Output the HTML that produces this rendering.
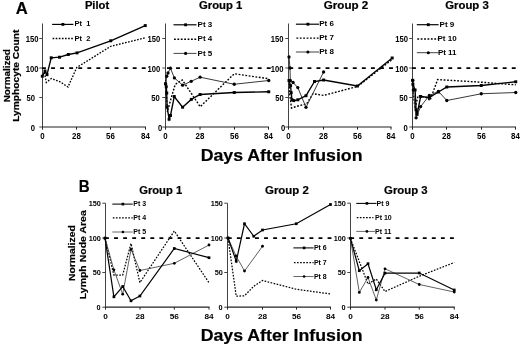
<!DOCTYPE html>
<html><head><meta charset="utf-8"><title>Figure</title>
<style>
html,body{margin:0;padding:0;background:#fff;}
body{width:520px;height:345px;overflow:hidden;font-family:"Liberation Sans",sans-serif;}
svg{display:block;filter:grayscale(1);}
</style></head><body>
<svg width="520" height="345" viewBox="0 0 520 345">
<rect width="520" height="345" fill="#fff"/>
<line x1="42.5" y1="23.5" x2="42.5" y2="127.5" stroke="#444" stroke-width="1"/>
<line x1="42.0" y1="127" x2="146.0" y2="127" stroke="#222" stroke-width="1.2"/>
<line x1="39.3" y1="127" x2="42.5" y2="127" stroke="#444" stroke-width="1"/>
<text x="30.74" y="130.6" font-size="8.8" textLength="4.26" lengthAdjust="spacingAndGlyphs" font-family="Liberation Sans, sans-serif" font-weight="bold">0</text>
<line x1="39.3" y1="97.5" x2="42.5" y2="97.5" stroke="#444" stroke-width="1"/>
<text x="26.49" y="101.1" font-size="8.8" textLength="8.52" lengthAdjust="spacingAndGlyphs" font-family="Liberation Sans, sans-serif" font-weight="bold">50</text>
<line x1="39.3" y1="68" x2="42.5" y2="68" stroke="#444" stroke-width="1"/>
<text x="25.63" y="71.6" font-size="8.8" textLength="12.77" lengthAdjust="spacingAndGlyphs" font-family="Liberation Sans, sans-serif" font-weight="bold">100</text>
<line x1="39.3" y1="38.5" x2="42.5" y2="38.5" stroke="#444" stroke-width="1"/>
<text x="25.63" y="42.1" font-size="8.8" textLength="12.77" lengthAdjust="spacingAndGlyphs" font-family="Liberation Sans, sans-serif" font-weight="bold">150</text>
<line x1="42.5" y1="127" x2="42.5" y2="129.6" stroke="#222" stroke-width="1"/>
<text x="40.30" y="139.0" font-size="8.8" textLength="4.40" lengthAdjust="spacingAndGlyphs" font-family="Liberation Sans, sans-serif" font-weight="bold">0</text>
<line x1="76.5" y1="127" x2="76.5" y2="129.6" stroke="#222" stroke-width="1"/>
<text x="72.10" y="139.0" font-size="8.8" textLength="8.81" lengthAdjust="spacingAndGlyphs" font-family="Liberation Sans, sans-serif" font-weight="bold">28</text>
<line x1="110.5" y1="127" x2="110.5" y2="129.6" stroke="#222" stroke-width="1"/>
<text x="106.10" y="139.0" font-size="8.8" textLength="8.81" lengthAdjust="spacingAndGlyphs" font-family="Liberation Sans, sans-serif" font-weight="bold">56</text>
<line x1="145.5" y1="127" x2="145.5" y2="129.6" stroke="#222" stroke-width="1"/>
<text x="141.10" y="139.0" font-size="8.8" textLength="8.81" lengthAdjust="spacingAndGlyphs" font-family="Liberation Sans, sans-serif" font-weight="bold">84</text>
<line x1="42" y1="68.2" x2="145.67" y2="68.2" stroke="#000" stroke-width="1.8" stroke-dasharray="3.9,5.17"/>
<polyline points="42.5,76 44.5,73 46.3,82.5 51.25,78.5 59.5,81.5 68,87 76.75,67.5 110.75,46.3 145.25,37.8" fill="none" stroke="#000" stroke-width="1.35" stroke-dasharray="1.65,1.45"/>
<polyline points="42.3,76.2 45,71 47,74.6 51.2,57.8 59.5,57.2 68.3,54.5 77,52.9 110.75,40.8 145.25,25.6" fill="none" stroke="#000" stroke-width="1.35" stroke-linejoin="miter"/>
<rect x="40.82" y="74.73" width="2.95" height="2.95" fill="#000"/>
<rect x="43.52" y="69.53" width="2.95" height="2.95" fill="#000"/>
<rect x="45.52" y="73.12" width="2.95" height="2.95" fill="#000"/>
<rect x="49.73" y="56.32" width="2.95" height="2.95" fill="#000"/>
<rect x="58.02" y="55.73" width="2.95" height="2.95" fill="#000"/>
<rect x="66.83" y="53.02" width="2.95" height="2.95" fill="#000"/>
<rect x="75.53" y="51.42" width="2.95" height="2.95" fill="#000"/>
<rect x="109.28" y="39.32" width="2.95" height="2.95" fill="#000"/>
<rect x="143.78" y="24.12" width="2.95" height="2.95" fill="#000"/>
<polyline points="52.1,24.4 73.4,24.4" fill="none" stroke="#000" stroke-width="1.1745" stroke-linejoin="miter"/>
<rect x="61.47" y="22.97" width="2.8615" height="2.8615" fill="#000"/>
<text x="74.6" y="26.4" font-size="7.5" text-anchor="start" font-family="Liberation Sans, sans-serif" font-weight="bold" >Pt&#160;&#160;1</text>
<polyline points="52.6,38.5 73.4,38.5" fill="none" stroke="#000" stroke-width="1.35" stroke-dasharray="1.65,1.45"/>
<text x="74.6" y="40.5" font-size="7.5" text-anchor="start" font-family="Liberation Sans, sans-serif" font-weight="bold" >Pt&#160;&#160;2</text>
<line x1="165.5" y1="23.5" x2="165.5" y2="127.5" stroke="#444" stroke-width="1"/>
<line x1="165.0" y1="127" x2="269.0" y2="127" stroke="#222" stroke-width="1.2"/>
<line x1="162.3" y1="127" x2="165.5" y2="127" stroke="#444" stroke-width="1"/>
<text x="158.04" y="130.6" font-size="8.8" textLength="4.26" lengthAdjust="spacingAndGlyphs" font-family="Liberation Sans, sans-serif" font-weight="bold">0</text>
<line x1="162.3" y1="97.5" x2="165.5" y2="97.5" stroke="#444" stroke-width="1"/>
<text x="151.19" y="101.1" font-size="8.8" textLength="8.52" lengthAdjust="spacingAndGlyphs" font-family="Liberation Sans, sans-serif" font-weight="bold">50</text>
<line x1="162.3" y1="68" x2="165.5" y2="68" stroke="#444" stroke-width="1"/>
<text x="147.53" y="71.6" font-size="8.8" textLength="12.77" lengthAdjust="spacingAndGlyphs" font-family="Liberation Sans, sans-serif" font-weight="bold">100</text>
<line x1="162.3" y1="38.5" x2="165.5" y2="38.5" stroke="#444" stroke-width="1"/>
<text x="147.53" y="42.1" font-size="8.8" textLength="12.77" lengthAdjust="spacingAndGlyphs" font-family="Liberation Sans, sans-serif" font-weight="bold">150</text>
<line x1="165.5" y1="127" x2="165.5" y2="129.6" stroke="#222" stroke-width="1"/>
<text x="163.30" y="139.0" font-size="8.8" textLength="4.40" lengthAdjust="spacingAndGlyphs" font-family="Liberation Sans, sans-serif" font-weight="bold">0</text>
<line x1="200" y1="127" x2="200" y2="129.6" stroke="#222" stroke-width="1"/>
<text x="195.60" y="139.0" font-size="8.8" textLength="8.81" lengthAdjust="spacingAndGlyphs" font-family="Liberation Sans, sans-serif" font-weight="bold">28</text>
<line x1="234.5" y1="127" x2="234.5" y2="129.6" stroke="#222" stroke-width="1"/>
<text x="230.10" y="139.0" font-size="8.8" textLength="8.81" lengthAdjust="spacingAndGlyphs" font-family="Liberation Sans, sans-serif" font-weight="bold">56</text>
<line x1="268.5" y1="127" x2="268.5" y2="129.6" stroke="#222" stroke-width="1"/>
<text x="264.10" y="139.0" font-size="8.8" textLength="8.81" lengthAdjust="spacingAndGlyphs" font-family="Liberation Sans, sans-serif" font-weight="bold">84</text>
<line x1="167" y1="68.2" x2="270.67" y2="68.2" stroke="#000" stroke-width="1.8" stroke-dasharray="3.9,5.17"/>
<polyline points="165.7,80 166.3,95 167.5,112 169.5,104 172.2,94.5 175.2,84.4 182.3,80 191.4,93.5 200.2,106.7 234.25,73.75 268.75,78.75" fill="none" stroke="#000" stroke-width="1.4" stroke-dasharray="1.8,1.6"/>
<polyline points="165.7,84 166.75,76.25 168,73 170.4,68.2 174.4,77.9 182.6,85.2 191.2,81.3 200.1,77.2 234.25,84.25 268.75,80.5" fill="none" stroke="#3a3a3a" stroke-width="1.0"/>
<circle cx="165.7" cy="84" r="1.65" fill="#000"/>
<circle cx="166.75" cy="76.25" r="1.65" fill="#000"/>
<circle cx="168" cy="73" r="1.65" fill="#000"/>
<circle cx="170.4" cy="68.2" r="1.65" fill="#000"/>
<circle cx="174.4" cy="77.9" r="1.65" fill="#000"/>
<circle cx="182.6" cy="85.2" r="1.65" fill="#000"/>
<circle cx="191.2" cy="81.3" r="1.65" fill="#000"/>
<circle cx="200.1" cy="77.2" r="1.65" fill="#000"/>
<circle cx="234.25" cy="84.25" r="1.65" fill="#000"/>
<circle cx="268.75" cy="80.5" r="1.65" fill="#000"/>
<polyline points="165.5,83.75 166.25,86.75 166.75,93 167.1,107 169.1,119.2 170.5,115.5 174.25,96.5 182.6,107.2 191.3,99.4 200.1,94.5 234.25,92.5 268.75,91.75" fill="none" stroke="#000" stroke-width="1.35" stroke-linejoin="miter"/>
<rect x="164.03" y="82.28" width="2.95" height="2.95" fill="#000"/>
<rect x="164.78" y="85.28" width="2.95" height="2.95" fill="#000"/>
<rect x="165.28" y="91.53" width="2.95" height="2.95" fill="#000"/>
<rect x="165.62" y="105.53" width="2.95" height="2.95" fill="#000"/>
<rect x="167.62" y="117.73" width="2.95" height="2.95" fill="#000"/>
<rect x="169.03" y="114.03" width="2.95" height="2.95" fill="#000"/>
<rect x="172.78" y="95.03" width="2.95" height="2.95" fill="#000"/>
<rect x="181.12" y="105.73" width="2.95" height="2.95" fill="#000"/>
<rect x="189.83" y="97.93" width="2.95" height="2.95" fill="#000"/>
<rect x="198.62" y="93.03" width="2.95" height="2.95" fill="#000"/>
<rect x="232.78" y="91.03" width="2.95" height="2.95" fill="#000"/>
<rect x="267.27" y="90.28" width="2.95" height="2.95" fill="#000"/>
<polyline points="173.5,24.8 196.5,24.8" fill="none" stroke="#000" stroke-width="1.1745" stroke-linejoin="miter"/>
<rect x="184.17" y="23.37" width="2.8615" height="2.8615" fill="#000"/>
<text x="197.6" y="26.900000000000002" font-size="8" text-anchor="start" font-family="Liberation Sans, sans-serif" font-weight="bold" >Pt 3</text>
<polyline points="174.0,39.2 196.5,39.2" fill="none" stroke="#000" stroke-width="1.4" stroke-dasharray="1.8,1.6"/>
<text x="197.6" y="41.300000000000004" font-size="8" text-anchor="start" font-family="Liberation Sans, sans-serif" font-weight="bold" >Pt 4</text>
<polyline points="173.5,53.4 196.5,53.4" fill="none" stroke="#3a3a3a" stroke-width="0.95"/>
<circle cx="185.6" cy="53.4" r="1.5675" fill="#000"/>
<text x="197.6" y="55.5" font-size="8" text-anchor="start" font-family="Liberation Sans, sans-serif" font-weight="bold" >Pt 5</text>
<line x1="288.5" y1="23.5" x2="288.5" y2="127.5" stroke="#444" stroke-width="1"/>
<line x1="288.0" y1="127" x2="391.5" y2="127" stroke="#222" stroke-width="1.2"/>
<line x1="285.3" y1="127" x2="288.5" y2="127" stroke="#444" stroke-width="1"/>
<text x="281.04" y="130.6" font-size="8.8" textLength="4.26" lengthAdjust="spacingAndGlyphs" font-family="Liberation Sans, sans-serif" font-weight="bold">0</text>
<line x1="285.3" y1="97.5" x2="288.5" y2="97.5" stroke="#444" stroke-width="1"/>
<text x="275.19" y="101.1" font-size="8.8" textLength="8.52" lengthAdjust="spacingAndGlyphs" font-family="Liberation Sans, sans-serif" font-weight="bold">50</text>
<line x1="285.3" y1="68" x2="288.5" y2="68" stroke="#444" stroke-width="1"/>
<text x="270.83" y="71.6" font-size="8.8" textLength="12.77" lengthAdjust="spacingAndGlyphs" font-family="Liberation Sans, sans-serif" font-weight="bold">100</text>
<line x1="285.3" y1="38.5" x2="288.5" y2="38.5" stroke="#444" stroke-width="1"/>
<text x="270.63" y="42.1" font-size="8.8" textLength="12.77" lengthAdjust="spacingAndGlyphs" font-family="Liberation Sans, sans-serif" font-weight="bold">150</text>
<line x1="288.5" y1="127" x2="288.5" y2="129.6" stroke="#222" stroke-width="1"/>
<text x="286.30" y="139.0" font-size="8.8" textLength="4.40" lengthAdjust="spacingAndGlyphs" font-family="Liberation Sans, sans-serif" font-weight="bold">0</text>
<line x1="323.5" y1="127" x2="323.5" y2="129.6" stroke="#222" stroke-width="1"/>
<text x="319.10" y="139.0" font-size="8.8" textLength="8.81" lengthAdjust="spacingAndGlyphs" font-family="Liberation Sans, sans-serif" font-weight="bold">28</text>
<line x1="357.5" y1="127" x2="357.5" y2="129.6" stroke="#222" stroke-width="1"/>
<text x="353.10" y="139.0" font-size="8.8" textLength="8.81" lengthAdjust="spacingAndGlyphs" font-family="Liberation Sans, sans-serif" font-weight="bold">56</text>
<line x1="391" y1="127" x2="391" y2="129.6" stroke="#222" stroke-width="1"/>
<text x="386.60" y="139.0" font-size="8.8" textLength="8.81" lengthAdjust="spacingAndGlyphs" font-family="Liberation Sans, sans-serif" font-weight="bold">84</text>
<line x1="289.3" y1="68.2" x2="392.97" y2="68.2" stroke="#000" stroke-width="1.8" stroke-dasharray="3.9,5.17"/>
<polyline points="289,80 289.8,95 291.5,108 298,106 306.5,104 313,93.7 323.6,95.4 357.5,86.5 391.5,60" fill="none" stroke="#000" stroke-width="1.4" stroke-dasharray="1.8,1.6"/>
<polyline points="289,57 290,68 290.3,80.5 293.1,82.5 297.8,87.6 306,107.3 323.6,72" fill="none" stroke="#3a3a3a" stroke-width="1.0"/>
<circle cx="289" cy="57" r="1.65" fill="#000"/>
<circle cx="290" cy="68" r="1.65" fill="#000"/>
<circle cx="290.3" cy="80.5" r="1.65" fill="#000"/>
<circle cx="293.1" cy="82.5" r="1.65" fill="#000"/>
<circle cx="297.8" cy="87.6" r="1.65" fill="#000"/>
<circle cx="306" cy="107.3" r="1.65" fill="#000"/>
<circle cx="323.6" cy="72" r="1.65" fill="#000"/>
<polyline points="289,80.5 290.6,85.6 291.2,92.7 292,99.8 293.8,100.6 297.8,99.8 306,95.7 314.5,81.5 323.6,80 357.4,86 392.2,58" fill="none" stroke="#000" stroke-width="1.35" stroke-linejoin="miter"/>
<rect x="287.52" y="79.03" width="2.95" height="2.95" fill="#000"/>
<rect x="289.12" y="84.12" width="2.95" height="2.95" fill="#000"/>
<rect x="289.72" y="91.23" width="2.95" height="2.95" fill="#000"/>
<rect x="290.52" y="98.33" width="2.95" height="2.95" fill="#000"/>
<rect x="292.32" y="99.12" width="2.95" height="2.95" fill="#000"/>
<rect x="296.32" y="98.33" width="2.95" height="2.95" fill="#000"/>
<rect x="304.52" y="94.23" width="2.95" height="2.95" fill="#000"/>
<rect x="313.02" y="80.03" width="2.95" height="2.95" fill="#000"/>
<rect x="322.12" y="78.53" width="2.95" height="2.95" fill="#000"/>
<rect x="355.92" y="84.53" width="2.95" height="2.95" fill="#000"/>
<rect x="390.72" y="56.52" width="2.95" height="2.95" fill="#000"/>
<polyline points="295.9,24.2 319,24.2" fill="none" stroke="#000" stroke-width="1.1745" stroke-linejoin="miter"/>
<rect x="306.47" y="22.77" width="2.8615" height="2.8615" fill="#000"/>
<text x="319.2" y="26.099999999999998" font-size="8" text-anchor="start" font-family="Liberation Sans, sans-serif" font-weight="bold" >Pt 6</text>
<polyline points="296.4,38.1 319,38.1" fill="none" stroke="#000" stroke-width="1.4" stroke-dasharray="1.8,1.6"/>
<text x="319.2" y="40.0" font-size="8" text-anchor="start" font-family="Liberation Sans, sans-serif" font-weight="bold" >Pt 7</text>
<polyline points="295.9,52.0 319,52.0" fill="none" stroke="#3a3a3a" stroke-width="0.95"/>
<circle cx="307.9" cy="52.0" r="1.5675" fill="#000"/>
<text x="319.2" y="53.9" font-size="8" text-anchor="start" font-family="Liberation Sans, sans-serif" font-weight="bold" >Pt 8</text>
<line x1="412.5" y1="23.5" x2="412.5" y2="127.5" stroke="#444" stroke-width="1"/>
<line x1="412.0" y1="127" x2="516.0" y2="127" stroke="#222" stroke-width="1.2"/>
<line x1="409.3" y1="127" x2="412.5" y2="127" stroke="#444" stroke-width="1"/>
<text x="403.44" y="130.6" font-size="8.8" textLength="4.26" lengthAdjust="spacingAndGlyphs" font-family="Liberation Sans, sans-serif" font-weight="bold">0</text>
<line x1="409.3" y1="97.5" x2="412.5" y2="97.5" stroke="#444" stroke-width="1"/>
<text x="399.19" y="101.1" font-size="8.8" textLength="8.52" lengthAdjust="spacingAndGlyphs" font-family="Liberation Sans, sans-serif" font-weight="bold">50</text>
<line x1="409.3" y1="68" x2="412.5" y2="68" stroke="#444" stroke-width="1"/>
<text x="395.33" y="71.6" font-size="8.8" textLength="12.77" lengthAdjust="spacingAndGlyphs" font-family="Liberation Sans, sans-serif" font-weight="bold">100</text>
<line x1="409.3" y1="38.5" x2="412.5" y2="38.5" stroke="#444" stroke-width="1"/>
<text x="395.33" y="42.1" font-size="8.8" textLength="12.77" lengthAdjust="spacingAndGlyphs" font-family="Liberation Sans, sans-serif" font-weight="bold">150</text>
<line x1="412.5" y1="127" x2="412.5" y2="129.6" stroke="#222" stroke-width="1"/>
<text x="410.30" y="139.0" font-size="8.8" textLength="4.40" lengthAdjust="spacingAndGlyphs" font-family="Liberation Sans, sans-serif" font-weight="bold">0</text>
<line x1="446.5" y1="127" x2="446.5" y2="129.6" stroke="#222" stroke-width="1"/>
<text x="442.10" y="139.0" font-size="8.8" textLength="8.81" lengthAdjust="spacingAndGlyphs" font-family="Liberation Sans, sans-serif" font-weight="bold">28</text>
<line x1="481.5" y1="127" x2="481.5" y2="129.6" stroke="#222" stroke-width="1"/>
<text x="477.10" y="139.0" font-size="8.8" textLength="8.81" lengthAdjust="spacingAndGlyphs" font-family="Liberation Sans, sans-serif" font-weight="bold">56</text>
<line x1="515.5" y1="127" x2="515.5" y2="129.6" stroke="#222" stroke-width="1"/>
<text x="511.10" y="139.0" font-size="8.8" textLength="8.81" lengthAdjust="spacingAndGlyphs" font-family="Liberation Sans, sans-serif" font-weight="bold">84</text>
<line x1="412" y1="68.2" x2="515.67" y2="68.2" stroke="#000" stroke-width="1.8" stroke-dasharray="3.9,5.17"/>
<polyline points="412.7,82 413.5,95 415,108.6 418.2,95.5 426.3,97.5 430,100.5 437.6,79.6 481.25,82.2 515.75,84.8" fill="none" stroke="#000" stroke-width="1.4" stroke-dasharray="1.8,1.6"/>
<polyline points="412.7,80.3 413.3,90 416.1,117.8 420.6,106.6 429.3,95.5 438.4,91.4 446.8,100.5 481.25,93.75 515.75,92.5" fill="none" stroke="#3a3a3a" stroke-width="1.0"/>
<circle cx="412.7" cy="80.3" r="1.65" fill="#000"/>
<circle cx="413.3" cy="90" r="1.65" fill="#000"/>
<circle cx="416.1" cy="117.8" r="1.65" fill="#000"/>
<circle cx="420.6" cy="106.6" r="1.65" fill="#000"/>
<circle cx="429.3" cy="95.5" r="1.65" fill="#000"/>
<circle cx="438.4" cy="91.4" r="1.65" fill="#000"/>
<circle cx="446.8" cy="100.5" r="1.65" fill="#000"/>
<circle cx="481.25" cy="93.75" r="1.65" fill="#000"/>
<circle cx="515.75" cy="92.5" r="1.65" fill="#000"/>
<polyline points="412.7,80.3 412.9,84.3 415.1,90 416.1,109.7 417.1,114.3 420.6,96.5 429.3,97.5 438.4,92 446.8,87 481.25,85.5 515.75,81.75" fill="none" stroke="#000" stroke-width="1.35" stroke-linejoin="miter"/>
<rect x="411.22" y="78.83" width="2.95" height="2.95" fill="#000"/>
<rect x="411.42" y="82.83" width="2.95" height="2.95" fill="#000"/>
<rect x="413.62" y="88.53" width="2.95" height="2.95" fill="#000"/>
<rect x="414.62" y="108.23" width="2.95" height="2.95" fill="#000"/>
<rect x="415.62" y="112.83" width="2.95" height="2.95" fill="#000"/>
<rect x="419.12" y="95.03" width="2.95" height="2.95" fill="#000"/>
<rect x="427.82" y="96.03" width="2.95" height="2.95" fill="#000"/>
<rect x="436.92" y="90.53" width="2.95" height="2.95" fill="#000"/>
<rect x="445.32" y="85.53" width="2.95" height="2.95" fill="#000"/>
<rect x="479.77" y="84.03" width="2.95" height="2.95" fill="#000"/>
<rect x="514.27" y="80.28" width="2.95" height="2.95" fill="#000"/>
<polyline points="416.8,24.7 438.6,24.7" fill="none" stroke="#000" stroke-width="1.1745" stroke-linejoin="miter"/>
<rect x="426.87" y="23.27" width="2.8615" height="2.8615" fill="#000"/>
<text x="439.6" y="26.599999999999998" font-size="8" text-anchor="start" font-family="Liberation Sans, sans-serif" font-weight="bold" >Pt 9</text>
<polyline points="417.3,39 438.6,39" fill="none" stroke="#000" stroke-width="1.4" stroke-dasharray="1.8,1.6"/>
<text x="437.5" y="40.9" font-size="8" text-anchor="start" font-family="Liberation Sans, sans-serif" font-weight="bold" >Pt 10</text>
<polyline points="416.8,52.7 438.6,52.7" fill="none" stroke="#3a3a3a" stroke-width="0.95"/>
<circle cx="428.3" cy="52.7" r="1.5675" fill="#000"/>
<text x="437.9" y="54.6" font-size="8" text-anchor="start" font-family="Liberation Sans, sans-serif" font-weight="bold" >Pt 11</text>
<text x="15.70" y="13.8" font-size="16" textLength="12.00" lengthAdjust="spacingAndGlyphs" font-family="Liberation Sans, sans-serif" font-weight="bold" stroke="#000" stroke-width="0.2">A</text>
<text x="84.90" y="9.0" font-size="10.3" textLength="24.29" lengthAdjust="spacingAndGlyphs" font-family="Liberation Sans, sans-serif" font-weight="bold" stroke="#000" stroke-width="0.2">Pilot</text>
<text x="199.00" y="9.0" font-size="10.3" textLength="43.19" lengthAdjust="spacingAndGlyphs" font-family="Liberation Sans, sans-serif" font-weight="bold" stroke="#000" stroke-width="0.2">Group 1</text>
<text x="323.85" y="9.0" font-size="10.3" textLength="44.44" lengthAdjust="spacingAndGlyphs" font-family="Liberation Sans, sans-serif" font-weight="bold" stroke="#000" stroke-width="0.2">Group 2</text>
<text x="445.20" y="9.0" font-size="10.3" textLength="43.59" lengthAdjust="spacingAndGlyphs" font-family="Liberation Sans, sans-serif" font-weight="bold" stroke="#000" stroke-width="0.2">Group 3</text>
<text x="200.70" y="161.2" font-size="17" textLength="161.80" lengthAdjust="spacingAndGlyphs" font-family="Liberation Sans, sans-serif" font-weight="bold" stroke="#000" stroke-width="0.2">Days After Infusion</text>
<text transform="translate(9.6,102.30) rotate(-90)" font-size="9.4" textLength="53.20" lengthAdjust="spacingAndGlyphs" font-family="Liberation Sans, sans-serif" font-weight="bold" stroke="#000" stroke-width="0.2">Normalized</text>
<text transform="translate(19.1,121.80) rotate(-90)" font-size="9.4" textLength="92.10" lengthAdjust="spacingAndGlyphs" font-family="Liberation Sans, sans-serif" font-weight="bold" stroke="#000" stroke-width="0.2">Lymphocyte Count</text>
<line x1="105.5" y1="203.2" x2="105.5" y2="307.7" stroke="#444" stroke-width="1"/>
<line x1="105.0" y1="307.2" x2="209.5" y2="307.2" stroke="#222" stroke-width="1.2"/>
<line x1="102.3" y1="307.2" x2="105.5" y2="307.2" stroke="#444" stroke-width="1"/>
<text x="96.54" y="309.95" font-size="7.3" textLength="4.06" lengthAdjust="spacingAndGlyphs" font-family="Liberation Sans, sans-serif" font-weight="bold">0</text>
<line x1="102.3" y1="272.5" x2="105.5" y2="272.5" stroke="#444" stroke-width="1"/>
<text x="92.78" y="275.25" font-size="7.3" textLength="8.12" lengthAdjust="spacingAndGlyphs" font-family="Liberation Sans, sans-serif" font-weight="bold">50</text>
<line x1="102.3" y1="238" x2="105.5" y2="238" stroke="#444" stroke-width="1"/>
<text x="88.72" y="240.75" font-size="7.3" textLength="12.18" lengthAdjust="spacingAndGlyphs" font-family="Liberation Sans, sans-serif" font-weight="bold">100</text>
<line x1="102.3" y1="203.2" x2="105.5" y2="203.2" stroke="#444" stroke-width="1"/>
<text x="88.72" y="205.95" font-size="7.3" textLength="12.18" lengthAdjust="spacingAndGlyphs" font-family="Liberation Sans, sans-serif" font-weight="bold">150</text>
<line x1="105.5" y1="307.2" x2="105.5" y2="309.59999999999997" stroke="#222" stroke-width="1"/>
<text x="103.21" y="319.2" font-size="8.0" textLength="4.58" lengthAdjust="spacingAndGlyphs" font-family="Liberation Sans, sans-serif" font-weight="bold">0</text>
<line x1="140" y1="307.2" x2="140" y2="309.59999999999997" stroke="#222" stroke-width="1"/>
<text x="135.42" y="319.2" font-size="8.0" textLength="9.17" lengthAdjust="spacingAndGlyphs" font-family="Liberation Sans, sans-serif" font-weight="bold">28</text>
<line x1="174.3" y1="307.2" x2="174.3" y2="309.59999999999997" stroke="#222" stroke-width="1"/>
<text x="169.72" y="319.2" font-size="8.0" textLength="9.17" lengthAdjust="spacingAndGlyphs" font-family="Liberation Sans, sans-serif" font-weight="bold">56</text>
<line x1="209" y1="307.2" x2="209" y2="309.59999999999997" stroke="#222" stroke-width="1"/>
<text x="204.42" y="319.2" font-size="8.0" textLength="9.17" lengthAdjust="spacingAndGlyphs" font-family="Liberation Sans, sans-serif" font-weight="bold">84</text>
<line x1="105" y1="238.2" x2="208.67" y2="238.2" stroke="#000" stroke-width="1.8" stroke-dasharray="3.9,5.17"/>
<polyline points="105,238 113.9,275 122.7,275 131,243.5 139.9,282.6 174.3,231 209,282.7" fill="none" stroke="#000" stroke-width="1.25" stroke-dasharray="1.65,1.45"/>
<polyline points="105,238.2 113.9,269.8 122.7,294.2 131,249.4 139.9,270.5 174.3,263.3 209,245" fill="none" stroke="#3a3a3a" stroke-width="0.8"/>
<circle cx="105" cy="238.2" r="1.4" fill="#000"/>
<circle cx="113.9" cy="269.8" r="1.4" fill="#000"/>
<circle cx="122.7" cy="294.2" r="1.4" fill="#000"/>
<circle cx="131" cy="249.4" r="1.4" fill="#000"/>
<circle cx="139.9" cy="270.5" r="1.4" fill="#000"/>
<circle cx="174.3" cy="263.3" r="1.4" fill="#000"/>
<circle cx="209" cy="245" r="1.4" fill="#000"/>
<polyline points="105,238.1 113.9,296.8 122.7,286.5 131,300.8 139.9,296 174.3,248.5 209,257.7" fill="none" stroke="#000" stroke-width="1.2" stroke-linejoin="miter"/>
<rect x="103.65" y="236.75" width="2.7" height="2.7" fill="#000"/>
<rect x="112.55" y="295.45" width="2.7" height="2.7" fill="#000"/>
<rect x="121.35" y="285.15" width="2.7" height="2.7" fill="#000"/>
<rect x="129.65" y="299.45" width="2.7" height="2.7" fill="#000"/>
<rect x="138.55" y="294.65" width="2.7" height="2.7" fill="#000"/>
<rect x="172.95" y="247.15" width="2.7" height="2.7" fill="#000"/>
<rect x="207.65" y="256.35" width="2.7" height="2.7" fill="#000"/>
<polyline points="112.3,204.1 132.7,204.1" fill="none" stroke="#000" stroke-width="1.044" stroke-linejoin="miter"/>
<rect x="121.59" y="202.79" width="2.619" height="2.619" fill="#000"/>
<text x="133.3" y="206.4" font-size="7" text-anchor="start" font-family="Liberation Sans, sans-serif" font-weight="bold" >Pt 3</text>
<polyline points="112.8,217.9 132.7,217.9" fill="none" stroke="#000" stroke-width="1.25" stroke-dasharray="1.65,1.45"/>
<text x="133.3" y="220.20000000000002" font-size="7" text-anchor="start" font-family="Liberation Sans, sans-serif" font-weight="bold" >Pt 4</text>
<polyline points="112.3,232.0 132.7,232.0" fill="none" stroke="#3a3a3a" stroke-width="0.76"/>
<circle cx="122.9" cy="232.0" r="1.3299999999999998" fill="#000"/>
<text x="133.3" y="234.3" font-size="7" text-anchor="start" font-family="Liberation Sans, sans-serif" font-weight="bold" >Pt 5</text>
<line x1="227.5" y1="203.2" x2="227.5" y2="307.7" stroke="#444" stroke-width="1"/>
<line x1="227.0" y1="307.2" x2="331.0" y2="307.2" stroke="#222" stroke-width="1.2"/>
<line x1="224.3" y1="307.2" x2="227.5" y2="307.2" stroke="#444" stroke-width="1"/>
<text x="218.54" y="309.95" font-size="7.3" textLength="4.06" lengthAdjust="spacingAndGlyphs" font-family="Liberation Sans, sans-serif" font-weight="bold">0</text>
<line x1="224.3" y1="272.5" x2="227.5" y2="272.5" stroke="#444" stroke-width="1"/>
<text x="214.78" y="275.25" font-size="7.3" textLength="8.12" lengthAdjust="spacingAndGlyphs" font-family="Liberation Sans, sans-serif" font-weight="bold">50</text>
<line x1="224.3" y1="238" x2="227.5" y2="238" stroke="#444" stroke-width="1"/>
<text x="210.72" y="240.75" font-size="7.3" textLength="12.18" lengthAdjust="spacingAndGlyphs" font-family="Liberation Sans, sans-serif" font-weight="bold">100</text>
<line x1="224.3" y1="203.2" x2="227.5" y2="203.2" stroke="#444" stroke-width="1"/>
<text x="210.72" y="205.95" font-size="7.3" textLength="12.18" lengthAdjust="spacingAndGlyphs" font-family="Liberation Sans, sans-serif" font-weight="bold">150</text>
<line x1="227.5" y1="307.2" x2="227.5" y2="309.59999999999997" stroke="#222" stroke-width="1"/>
<text x="225.21" y="319.2" font-size="8.0" textLength="4.58" lengthAdjust="spacingAndGlyphs" font-family="Liberation Sans, sans-serif" font-weight="bold">0</text>
<line x1="262.5" y1="307.2" x2="262.5" y2="309.59999999999997" stroke="#222" stroke-width="1"/>
<text x="257.92" y="319.2" font-size="8.0" textLength="9.17" lengthAdjust="spacingAndGlyphs" font-family="Liberation Sans, sans-serif" font-weight="bold">28</text>
<line x1="296.5" y1="307.2" x2="296.5" y2="309.59999999999997" stroke="#222" stroke-width="1"/>
<text x="291.92" y="319.2" font-size="8.0" textLength="9.17" lengthAdjust="spacingAndGlyphs" font-family="Liberation Sans, sans-serif" font-weight="bold">56</text>
<line x1="330.5" y1="307.2" x2="330.5" y2="309.59999999999997" stroke="#222" stroke-width="1"/>
<text x="325.92" y="319.2" font-size="8.0" textLength="9.17" lengthAdjust="spacingAndGlyphs" font-family="Liberation Sans, sans-serif" font-weight="bold">84</text>
<line x1="227.8" y1="238.2" x2="331.47" y2="238.2" stroke="#000" stroke-width="1.8" stroke-dasharray="3.9,5.17"/>
<polyline points="228,238 236.25,296.25 244.5,295.75 253.75,286.25 262.5,280.5 296.25,289.25 331,294" fill="none" stroke="#000" stroke-width="1.25" stroke-dasharray="1.65,1.45"/>
<polyline points="228,238 236.1,256 244.5,271 262.5,246.25" fill="none" stroke="#3a3a3a" stroke-width="0.8"/>
<circle cx="228" cy="238" r="1.4" fill="#000"/>
<circle cx="236.1" cy="256" r="1.4" fill="#000"/>
<circle cx="244.5" cy="271" r="1.4" fill="#000"/>
<circle cx="262.5" cy="246.25" r="1.4" fill="#000"/>
<polyline points="228,238 236.25,261.25 244.5,223.75 253.75,236.25 262.5,230 296.25,223.75 330.5,204.5" fill="none" stroke="#000" stroke-width="1.2" stroke-linejoin="miter"/>
<rect x="226.65" y="236.65" width="2.7" height="2.7" fill="#000"/>
<rect x="234.90" y="259.90" width="2.7" height="2.7" fill="#000"/>
<rect x="243.15" y="222.40" width="2.7" height="2.7" fill="#000"/>
<rect x="252.40" y="234.90" width="2.7" height="2.7" fill="#000"/>
<rect x="261.15" y="228.65" width="2.7" height="2.7" fill="#000"/>
<rect x="294.90" y="222.40" width="2.7" height="2.7" fill="#000"/>
<rect x="329.15" y="203.15" width="2.7" height="2.7" fill="#000"/>
<polyline points="293.4,247.9 313.6,247.9" fill="none" stroke="#000" stroke-width="1.044" stroke-linejoin="miter"/>
<rect x="302.79" y="246.59" width="2.619" height="2.619" fill="#000"/>
<text x="313.9" y="250.20000000000002" font-size="7" text-anchor="start" font-family="Liberation Sans, sans-serif" font-weight="bold" >Pt 6</text>
<polyline points="293.9,262.5 313.6,262.5" fill="none" stroke="#000" stroke-width="1.25" stroke-dasharray="1.65,1.45"/>
<text x="313.9" y="264.8" font-size="7" text-anchor="start" font-family="Liberation Sans, sans-serif" font-weight="bold" >Pt 7</text>
<polyline points="293.4,276.5 313.6,276.5" fill="none" stroke="#3a3a3a" stroke-width="0.76"/>
<circle cx="304.1" cy="276.5" r="1.3299999999999998" fill="#000"/>
<text x="313.9" y="278.8" font-size="7" text-anchor="start" font-family="Liberation Sans, sans-serif" font-weight="bold" >Pt 8</text>
<line x1="350.5" y1="203.2" x2="350.5" y2="307.7" stroke="#444" stroke-width="1"/>
<line x1="350.0" y1="307.2" x2="454.75" y2="307.2" stroke="#222" stroke-width="1.2"/>
<line x1="347.3" y1="307.2" x2="350.5" y2="307.2" stroke="#444" stroke-width="1"/>
<text x="341.54" y="309.95" font-size="7.3" textLength="4.06" lengthAdjust="spacingAndGlyphs" font-family="Liberation Sans, sans-serif" font-weight="bold">0</text>
<line x1="347.3" y1="272.5" x2="350.5" y2="272.5" stroke="#444" stroke-width="1"/>
<text x="337.78" y="275.25" font-size="7.3" textLength="8.12" lengthAdjust="spacingAndGlyphs" font-family="Liberation Sans, sans-serif" font-weight="bold">50</text>
<line x1="347.3" y1="238" x2="350.5" y2="238" stroke="#444" stroke-width="1"/>
<text x="333.72" y="240.75" font-size="7.3" textLength="12.18" lengthAdjust="spacingAndGlyphs" font-family="Liberation Sans, sans-serif" font-weight="bold">100</text>
<line x1="347.3" y1="203.2" x2="350.5" y2="203.2" stroke="#444" stroke-width="1"/>
<text x="333.72" y="205.95" font-size="7.3" textLength="12.18" lengthAdjust="spacingAndGlyphs" font-family="Liberation Sans, sans-serif" font-weight="bold">150</text>
<line x1="350.5" y1="307.2" x2="350.5" y2="309.59999999999997" stroke="#222" stroke-width="1"/>
<text x="348.21" y="319.2" font-size="8.0" textLength="4.58" lengthAdjust="spacingAndGlyphs" font-family="Liberation Sans, sans-serif" font-weight="bold">0</text>
<line x1="385" y1="307.2" x2="385" y2="309.59999999999997" stroke="#222" stroke-width="1"/>
<text x="380.42" y="319.2" font-size="8.0" textLength="9.17" lengthAdjust="spacingAndGlyphs" font-family="Liberation Sans, sans-serif" font-weight="bold">28</text>
<line x1="419.25" y1="307.2" x2="419.25" y2="309.59999999999997" stroke="#222" stroke-width="1"/>
<text x="414.67" y="319.2" font-size="8.0" textLength="9.17" lengthAdjust="spacingAndGlyphs" font-family="Liberation Sans, sans-serif" font-weight="bold">56</text>
<line x1="454.25" y1="307.2" x2="454.25" y2="309.59999999999997" stroke="#222" stroke-width="1"/>
<text x="449.67" y="319.2" font-size="8.0" textLength="9.17" lengthAdjust="spacingAndGlyphs" font-family="Liberation Sans, sans-serif" font-weight="bold">84</text>
<line x1="350.2" y1="238.2" x2="453.87" y2="238.2" stroke="#000" stroke-width="1.8" stroke-dasharray="3.9,5.17"/>
<polyline points="350.3,238.3 368,284 376.3,279 385,291.5 419.25,276.25 454.25,262.5" fill="none" stroke="#000" stroke-width="1.25" stroke-dasharray="1.65,1.45"/>
<polyline points="350.4,238.3 359.3,292.4 368,277.5 376.3,300 385,268.8 419.25,284.5 454.25,292" fill="none" stroke="#3a3a3a" stroke-width="0.8"/>
<circle cx="350.4" cy="238.3" r="1.4" fill="#000"/>
<circle cx="359.3" cy="292.4" r="1.4" fill="#000"/>
<circle cx="368" cy="277.5" r="1.4" fill="#000"/>
<circle cx="376.3" cy="300" r="1.4" fill="#000"/>
<circle cx="385" cy="268.8" r="1.4" fill="#000"/>
<circle cx="419.25" cy="284.5" r="1.4" fill="#000"/>
<circle cx="454.25" cy="292" r="1.4" fill="#000"/>
<polyline points="350.4,238.3 359.3,270.7 368,263.7 376.3,289.8 385,273.1 419.25,273 454.25,290" fill="none" stroke="#000" stroke-width="1.2" stroke-linejoin="miter"/>
<rect x="349.05" y="236.95" width="2.7" height="2.7" fill="#000"/>
<rect x="357.95" y="269.35" width="2.7" height="2.7" fill="#000"/>
<rect x="366.65" y="262.35" width="2.7" height="2.7" fill="#000"/>
<rect x="374.95" y="288.45" width="2.7" height="2.7" fill="#000"/>
<rect x="383.65" y="271.75" width="2.7" height="2.7" fill="#000"/>
<rect x="417.90" y="271.65" width="2.7" height="2.7" fill="#000"/>
<rect x="452.90" y="288.65" width="2.7" height="2.7" fill="#000"/>
<polyline points="356.25,203.4 376.5,203.4" fill="none" stroke="#000" stroke-width="1.044" stroke-linejoin="miter"/>
<rect x="365.59" y="202.09" width="2.619" height="2.619" fill="#000"/>
<text x="376.6" y="205.70000000000002" font-size="7" text-anchor="start" font-family="Liberation Sans, sans-serif" font-weight="bold" >Pt 9</text>
<polyline points="356.75,217.6 373.4,217.6" fill="none" stroke="#000" stroke-width="1.25" stroke-dasharray="1.65,1.45"/>
<text x="375" y="219.9" font-size="7" text-anchor="start" font-family="Liberation Sans, sans-serif" font-weight="bold" >Pt 10</text>
<polyline points="356.25,231.4 375,231.4" fill="none" stroke="#3a3a3a" stroke-width="0.76"/>
<circle cx="366.9" cy="231.4" r="1.3299999999999998" fill="#000"/>
<text x="375" y="233.70000000000002" font-size="7" text-anchor="start" font-family="Liberation Sans, sans-serif" font-weight="bold" >Pt 11</text>
<text x="78.80" y="192.3" font-size="17" textLength="10.90" lengthAdjust="spacingAndGlyphs" font-family="Liberation Sans, sans-serif" font-weight="bold" stroke="#000" stroke-width="0.2">B</text>
<text x="139.20" y="193.7" font-size="11" textLength="42.99" lengthAdjust="spacingAndGlyphs" font-family="Liberation Sans, sans-serif" font-weight="bold" stroke="#000" stroke-width="0.2">Group 1</text>
<text x="265.00" y="193.5" font-size="11" textLength="43.79" lengthAdjust="spacingAndGlyphs" font-family="Liberation Sans, sans-serif" font-weight="bold" stroke="#000" stroke-width="0.2">Group 2</text>
<text x="384.10" y="194.3" font-size="11" textLength="43.59" lengthAdjust="spacingAndGlyphs" font-family="Liberation Sans, sans-serif" font-weight="bold" stroke="#000" stroke-width="0.2">Group 3</text>
<text x="200.70" y="340.7" font-size="16.7" textLength="161.80" lengthAdjust="spacingAndGlyphs" font-family="Liberation Sans, sans-serif" font-weight="bold" stroke="#000" stroke-width="0.2">Days After Infusion</text>
<text transform="translate(75.3,281.00) rotate(-90)" font-size="9.7" textLength="55.70" lengthAdjust="spacingAndGlyphs" font-family="Liberation Sans, sans-serif" font-weight="bold" stroke="#000" stroke-width="0.2">Normalized</text>
<text transform="translate(85.6,299.20) rotate(-90)" font-size="9.7" textLength="88.93" lengthAdjust="spacingAndGlyphs" font-family="Liberation Sans, sans-serif" font-weight="bold" stroke="#000" stroke-width="0.2">Lymph Node Area</text>
</svg>
</body></html>
